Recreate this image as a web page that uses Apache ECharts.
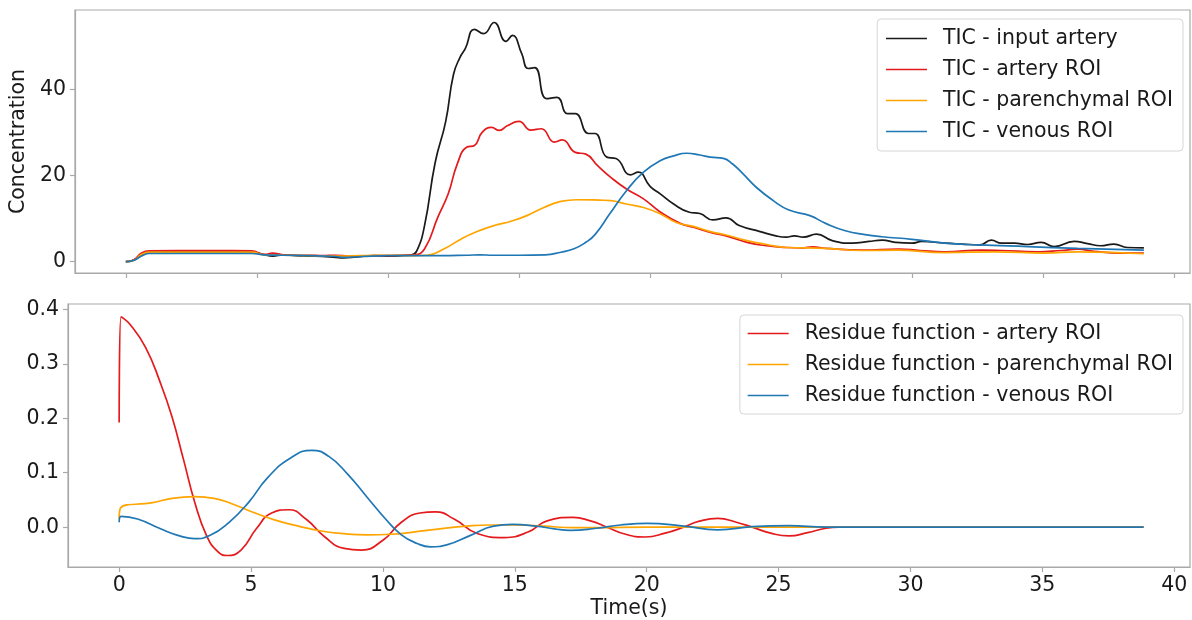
<!DOCTYPE html>
<html><head><meta charset="utf-8">
<script src="https://cdn.jsdelivr.net/npm/echarts@6/dist/echarts.min.js"></script>
<style>html,body{margin:0;padding:0;background:#fff}#c{width:1192px;height:620px}</style>
</head><body><div id="c"></div>
<script>
// ---- tick labels ----
const xTicks = [0, 5, 10, 15, 20, 25, 30, 35, 40];
const yTicksTop = [0, 20, 40];
const yTicksBottom = [0, 0.1, 0.2, 0.3, 0.4];

// ---- series names ----
const ticNames = ['TIC - input artery', 'TIC - artery ROI', 'TIC - parenchymal ROI', 'TIC - venous ROI'];
const resNames = ['Residue function - artery ROI', 'Residue function - parenchymal ROI', 'Residue function - venous ROI'];

// ---- TIC data [time, concentration] ----
const ticInputArtery = [[0,0],[0.3,0.4],[0.6,1.6],[0.9,2.3],[2,2.35],[3,2.35],[4,2.35],[4.8,2.3],[5.3,1.6],[5.6,1.3],[6,1.6],[6.5,1.4],[7,1.3],[7.5,1.2],[8,1.0],[8.3,0.9],[8.8,1.1],[9.5,1.4],[10,1.3],[10.5,1.4],[10.9,1.6],[11.1,2.5],[11.4,8.5],[11.8,23],[12.2,32.5],[12.5,43.5],[12.75,47.5],[12.95,49.5],[13.3,54],[13.65,53],[14.05,55.6],[14.5,51.2],[14.75,52.6],[15.1,48.4],[15.35,44.9],[15.6,45.1],[16.05,37.9],[16.45,38.2],[16.85,34.4],[17.15,34.4],[17.65,29.8],[17.9,29.8],[18.35,24.3],[18.7,24],[19.25,20.2],[19.55,20.8],[20.0,17.5],[20.4,15.7],[20.9,13.4],[21.5,11.5],[21.9,11.2],[22.4,9.7],[22.9,10.2],[23.4,8.4],[24.2,7],[24.8,6],[25.2,5.7],[25.5,6],[25.85,5.7],[26.35,6.4],[26.95,4.9],[27.7,4.3],[28.35,4.7],[28.86,5],[29.36,4.5],[29.99,4.3],[30.37,4.7],[31.25,4.3],[31.89,4.1],[32.58,3.9],[33.02,5],[33.41,4.3],[33.9,4.3],[34.41,4.0],[34.92,4.5],[35.42,3.5],[36.18,4.7],[36.69,4.2],[37.19,3.7],[37.7,4.1],[38.21,3.3],[38.84,3.2]];
const ticArteryROI = [[0,0],[0.3,0.4],[0.6,2.0],[0.9,2.5],[2,2.55],[3,2.55],[4,2.55],[4.8,2.5],[5.3,1.7],[5.6,2.0],[6,1.6],[6.5,1.5],[7,1.5],[7.5,1.4],[8,1.5],[8.5,1.3],[9,1.3],[9.5,1.4],[10,1.4],[10.5,1.5],[11.0,1.6],[11.4,3],[11.9,10.3],[12.3,15.8],[12.65,22.8],[13.0,26.6],[13.3,27],[13.6,30.1],[13.95,31.2],[14.25,30.5],[14.55,31.6],[15.0,32.6],[15.45,30.6],[15.85,30.9],[16.35,27.8],[16.65,28.3],[17.15,25.4],[17.55,25],[18.0,22.3],[18.5,19.6],[19.1,16.9],[19.75,14.6],[20.4,11.5],[21.15,8.9],[21.65,8],[22.3,6.8],[22.9,6],[23.7,4.5],[24.45,3.7],[25.2,3.3],[25.8,3.2],[26.2,3.45],[26.7,3.1],[28.1,2.7],[29.49,2.95],[30.3,2.6],[31.25,2.3],[32.64,2.7],[33.4,2.6],[34.8,2.3],[35.68,2.6],[36.31,2.9],[36.94,2.4],[37.95,2.0],[38.84,2.0]];
const ticParenchymalROI = [[0,0],[0.3,0.3],[0.6,1.7],[0.9,2.2],[4.8,2.2],[5.3,1.6],[6,1.5],[7,1.4],[8,1.3],[9,1.4],[10,1.5],[11,1.4],[11.5,1.5],[12.15,3],[12.8,5.3],[13.4,7],[14.05,8.4],[14.7,9.4],[15.3,10.7],[15.95,12.6],[16.6,14],[17.2,14.4],[18.1,14.3],[18.5,14.2],[19.1,13.4],[19.75,12.6],[20.4,11.1],[21.0,9.1],[21.65,8.2],[22.3,7],[22.9,6.2],[23.7,4.9],[24.45,4],[25.2,3.3],[26.7,3.1],[28.1,2.6],[29.36,2.7],[31.25,2.1],[33.15,2.3],[35.05,2.0],[36.31,2.3],[38.84,1.85]];
const ticVenousROI = [[0,0],[0.3,0.3],[0.6,1.3],[0.9,1.9],[4.8,1.9],[5.3,1.6],[6,1.5],[7,1.4],[8,1.2],[8.3,1.0],[9,1.2],[10,1.4],[11,1.4],[12,1.4],[13,1.5],[13.5,1.6],[14,1.5],[15,1.5],[16,1.6],[16.6,2.2],[17.1,3],[17.55,4.5],[17.9,6.3],[18.45,11],[19.1,16.5],[19.75,20.8],[20.4,23.5],[20.9,24.6],[21.4,25.2],[21.9,24.8],[22.3,24.3],[22.8,24],[23.15,22.7],[23.55,20.4],[24.05,17.3],[24.7,14.2],[25.3,12],[26.1,10.7],[26.7,8.9],[27.45,7.2],[28.2,6.3],[28.85,5.8],[29.99,5.2],[31.25,4.3],[32.52,3.9],[34.41,3.5],[36.31,3.1],[38.84,2.7]];

// ---- Residue function data [time, value] ----
const resArteryROI = [[0,0.192],[0.07,0.386],[0.4,0.373],[1.0,0.33],[1.57,0.264],[2.0,0.203],[2.44,0.124],[2.87,0.045],[3.31,-0.015],[3.74,-0.045],[4.1,-0.052],[4.62,-0.042],[5.2,-0.003],[5.78,0.026],[6.43,0.032],[7.08,0.015],[7.8,-0.018],[8.53,-0.039],[9.19,-0.042],[10,-0.024],[10.7,0.009],[11.4,0.026],[12.0,0.028],[12.7,0.015],[13.6,-0.012],[14.6,-0.019],[15.5,-0.009],[16.2,0.011],[17.2,0.018],[17.9,0.011],[18.5,0.0],[19.2,-0.013],[19.95,-0.018],[20.7,-0.011],[21.4,0.0],[22.0,0.011],[22.7,0.016],[23.4,0.009],[24.0,0.0],[24.7,-0.011],[25.4,-0.016],[26.1,-0.01],[26.8,-0.002],[27.3,0],[38.84,0]];
const resParenchymalROI = [[0,0.015],[0.06,0.036],[1.27,0.045],[2.0,0.053],[2.87,0.056],[3.6,0.053],[4.32,0.042],[5.05,0.028],[5.92,0.013],[6.79,0.002],[7.66,-0.007],[8.53,-0.012],[9.4,-0.014],[10.3,-0.013],[11.15,-0.009],[12.16,-0.003],[13.18,0.002],[14.05,0.004],[15.06,0.004],[16.08,0.002],[17.24,-0.001],[18.1,-0.001],[20,0],[27,0],[38.84,0]];
const resVenousROI = [[0,0.009],[0.07,0.02],[0.7,0.015],[1.57,-0.003],[2.29,-0.016],[2.87,-0.021],[3.45,-0.015],[4.17,0.009],[4.9,0.045],[5.63,0.091],[6.5,0.127],[7.3,0.141],[7.95,0.13],[8.67,0.097],[9.4,0.055],[10.1,0.015],[10.7,-0.014],[11.3,-0.03],[11.8,-0.036],[12.45,-0.032],[13.32,-0.015],[14.2,0.002],[14.9,0.005],[15.8,0.002],[16.5,-0.003],[17.1,-0.006],[18.1,-0.002],[19,0.004],[20,0.007],[21.4,0.002],[22.7,-0.005],[24,0.001],[25.4,0.003],[26.8,0],[27.5,0],[38.84,0]];

const COLORS = ['#1a1a1a', '#e41a1c', '#ffa500', '#1f77b4'];
const RES_COLORS = ['#e41a1c', '#ffa500', '#1f77b4'];
const FONT = '"DejaVu Sans"';
const FS = 20.5;
const AXIS = '#a9a9a9';
const TXT = '#1a1a1a';

function xAxis(gi, showLabels, name) {
  return {
    type: 'value', gridIndex: gi, min: -1.94, max: 40.6,
    name: name || '', nameLocation: 'middle', nameGap: 31,
    nameTextStyle: {fontSize: FS, color: TXT, fontFamily: FONT},
    axisLine: {show: true, onZero: false, lineStyle: {color: AXIS, width: 1.2}},
    axisTick: {show: true, customValues: xTicks, length: 5, lineStyle: {color: AXIS, width: 1.2}},
    axisLabel: {show: showLabels, customValues: xTicks, fontSize: FS, color: TXT, fontFamily: FONT, margin: 8},
    splitLine: {show: false}
  };
}
function yAxis(gi, min, max, ticks, fmt, name) {
  return {
    type: 'value', gridIndex: gi, min: min, max: max,
    name: name || '', nameLocation: 'middle', nameGap: 41, nameRotate: 90,
    nameTextStyle: {fontSize: FS, color: TXT, fontFamily: FONT},
    axisLine: {show: true, onZero: false, lineStyle: {color: AXIS, width: 1.2}},
    axisTick: {show: true, customValues: ticks, length: 5, lineStyle: {color: AXIS, width: 1.2}},
    axisLabel: {customValues: ticks, fontSize: FS, color: TXT, fontFamily: FONT, margin: 9, formatter: fmt},
    splitLine: {show: false}
  };
}
function line(name, data, color, ax) {
  return {
    name: name, type: 'line', data: data, xAxisIndex: ax, yAxisIndex: ax,
    showSymbol: false, symbol: 'none', smooth: 0.5,
    lineStyle: {color: color, width: 1.7}, itemStyle: {color: color},
    animation: false, silent: true
  };
}
const legendCommon = {
  orient: 'vertical', itemWidth: 41, itemHeight: 20, itemGap: 10,
  backgroundColor: 'rgba(255,255,255,0.85)', borderColor: '#d6d6d6', borderWidth: 1, borderRadius: 4,
  itemStyle: {opacity: 0},
  lineStyle: {width: 1.6},
  textStyle: {fontSize: FS, color: TXT, fontFamily: FONT, padding: [0, 0, 0, 11], lineHeight: 20},
  selectedMode: false
};

const chart = echarts.init(document.getElementById('c'), null, {renderer: 'canvas'});
chart.setOption({
  backgroundColor: '#ffffff',
  animation: false,
  grid: [
    {left: 68, width: 1122, top: 10, height: 263, show: true, borderColor: AXIS, borderWidth: 1.2, backgroundColor: 'transparent'},
    {left: 68, width: 1122, top: 304, height: 264, show: true, borderColor: AXIS, borderWidth: 1.2, backgroundColor: 'transparent'}
  ],
  xAxis: [xAxis(0, false), xAxis(1, true, 'Time(s)')],
  yAxis: [
    yAxis(0, -2.63, 58.5, yTicksTop, v => String(v), 'Concentration'),
    yAxis(1, -0.0731, 0.4097, yTicksBottom, v => v.toFixed(1))
  ],
  legend: [
    Object.assign({}, legendCommon, {data: ticNames, right: 9, top: 19, padding: [9, 10, 9, 8]}),
    Object.assign({}, legendCommon, {data: resNames, right: 9, top: 315, padding: [8, 10, 8, 7]})
  ],
  series: [
    line(ticNames[0], ticInputArtery, COLORS[0], 0),
    line(ticNames[1], ticArteryROI, COLORS[1], 0),
    line(ticNames[2], ticParenchymalROI, COLORS[2], 0),
    line(ticNames[3], ticVenousROI, COLORS[3], 0),
    line(resNames[0], resArteryROI, RES_COLORS[0], 1),
    line(resNames[1], resParenchymalROI, RES_COLORS[1], 1),
    line(resNames[2], resVenousROI, RES_COLORS[2], 1)
  ]
});
</script></body></html>
